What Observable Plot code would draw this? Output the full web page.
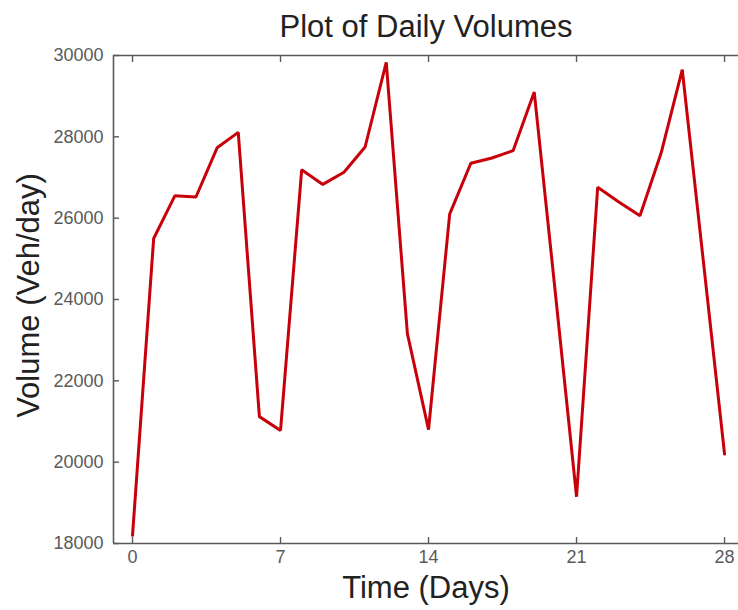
<!DOCTYPE html>
<html>
<head>
<meta charset="utf-8">
<script src="https://cdn.jsdelivr.net/npm/d3@7"></script>
<script src="https://cdn.jsdelivr.net/npm/@observablehq/plot@0.6"></script>
<style>
  html, body { margin: 0; padding: 0; background: #fff; }
  #chart svg { display: block; }
</style>
</head>
<body>
<div id="chart"></div>
<script>
const title = "Plot of Daily Volumes";
const xLabel = "Time (Days)";
const yLabel = "Volume (Veh/day)";
const days = [0, 1, 2, 3, 4, 5, 6, 7, 8, 9, 10, 11, 12, 13, 14, 15, 16, 17, 18, 19, 20, 21, 22, 23, 24, 25, 26, 27, 28];
const volumes = [18200, 25500, 26550, 26520, 27730, 28110, 21120, 20780, 27190, 26830, 27130, 27750, 29830, 23160, 20800, 26100, 27350, 27480, 27660, 29100, 24150, 19150, 26760, 26400, 26060, 27600, 29650, 24930, 20200];
const xTicks = [0, 7, 14, 21, 28];
const yTicks = [18000, 20000, 22000, 24000, 26000, 28000, 30000];
const xDomain = [-0.9, 28.66];
const yDomain = [18000, 30000];

const data = days.map((d, i) => ({day: d, volume: volumes[i]}));
const axisColor = "#5a5a5a";

const chart = Plot.plot({
  width: 738,
  height: 610,
  marginLeft: 113,
  marginRight: 0,
  marginTop: 55,
  marginBottom: 67,
  style: {fontFamily: "'Liberation Sans', Arial, sans-serif", background: "#fff", overflow: "visible"},
  x: {domain: xDomain},
  y: {domain: yDomain},
  marks: [
    Plot.ruleY([yDomain[0], yDomain[1]], {stroke: axisColor, strokeWidth: 1.6}),
    Plot.ruleX([xDomain[0]], {stroke: axisColor, strokeWidth: 1.6}),
    Plot.axisY({ticks: yTicks, tickSize: -6, tickPadding: 16, fontSize: 18, color: axisColor, strokeWidth: 1.4, label: null, tickFormat: d3.format("d")}),
    Plot.axisX({ticks: xTicks, anchor: "bottom", tickSize: -6, tickPadding: 13, fontSize: 18, color: axisColor, strokeWidth: 1.4, label: null, tickFormat: d3.format("d")}),
    Plot.axisX({ticks: xTicks, anchor: "top", tickSize: -6, color: axisColor, strokeWidth: 1.4, label: null, tickFormat: () => ""}),
    Plot.line(data, {x: "day", y: "volume", stroke: "#c8000a", strokeWidth: 3, strokeLinejoin: "miter"}),
    Plot.text([title], {text: d => d, frameAnchor: "top", lineAnchor: "middle", textAnchor: "middle", dy: -28, fontSize: 31, fill: "#222"}),
    Plot.text([xLabel], {text: d => d, frameAnchor: "bottom", lineAnchor: "middle", textAnchor: "middle", dy: 45, fontSize: 31, fill: "#222"}),
    Plot.text([yLabel], {text: d => d, frameAnchor: "left", lineAnchor: "middle", textAnchor: "middle", dx: -84, dy: -4, rotate: -90, fontSize: 31, fill: "#222"})
  ]
});
document.getElementById("chart").appendChild(chart);
</script>
</body>
</html>
